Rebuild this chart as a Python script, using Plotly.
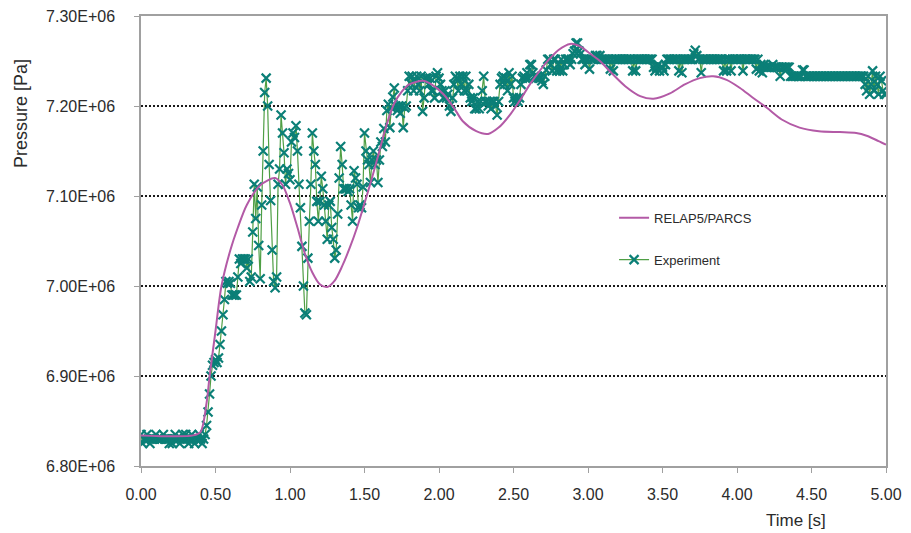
import plotly.graph_objects as go

# Measured pressure, sampled every 0.01 s from 0.00 s to 5.00 s (kPa)
exp_t0 = 0.0
exp_dt = 0.01
exp_kpa = [
    6835, 6825, 6830, 6830, 6835, 6830, 6825, 6830, 6830, 6830,  # 0.00
    6835, 6830, 6830, 6830, 6830, 6835, 6830, 6830, 6830, 6825,  # 0.10
    6830, 6825, 6830, 6835, 6830, 6830, 6825, 6830, 6835, 6830,  # 0.20
    6835, 6830, 6825, 6830, 6835, 6830, 6825, 6830, 6830, 6835,  # 0.30
    6830, 6825, 6830, 6835, 6845, 6860, 6880, 6900, 6912, 6915,  # 0.40
    6918, 6915, 6920, 6935, 6950, 6968, 6985, 7005, 7003, 7005,  # 0.50
    7003, 6990, 6990, 6990, 6990, 7010, 7030, 7025, 7030, 7030,  # 0.60
    7030, 7020, 7030, 7005, 7010, 7060, 7113, 7075, 7110, 7045,  # 0.70
    7008, 7090, 7150, 7215, 7231, 7200, 7135, 7095, 7040, 7005,  # 0.80
    6998, 7010, 7113, 7130, 7190, 7170, 7148, 7113, 7130, 7125,  # 0.90
    7118, 7160, 7170, 7165, 7178, 7150, 7113, 7087, 7044, 7000,  # 1.00
    6970, 6968, 7031, 7072, 7113, 7170, 7150, 7135, 7094, 7072,  # 1.10
    7094, 7122, 7108, 7090, 7072, 7052, 7090, 7094, 7065, 7052,  # 1.20
    7031, 7040, 7080, 7120, 7155, 7135, 7108, 7108, 7108, 7105,  # 1.30
    7108, 7090, 7072, 7128, 7120, 7113, 7087, 7090, 7087, 7110,  # 1.40
    7170, 7150, 7140, 7135, 7115, 7140, 7150, 7135, 7140, 7115,  # 1.50
    7140, 7160, 7155, 7175, 7160, 7195, 7202, 7176, 7198, 7210,  # 1.60
    7220, 7200, 7195, 7200, 7192, 7200, 7176, 7198, 7200, 7217,  # 1.70
    7233, 7225, 7233, 7217, 7228, 7233, 7224, 7217, 7233, 7194,  # 1.80
    7209, 7231, 7231, 7224, 7231, 7217, 7217, 7209, 7233, 7237,  # 1.90
    7231, 7224, 7217, 7209, 7217, 7209, 7213, 7200, 7194, 7209,  # 2.00
    7224, 7233, 7231, 7217, 7233, 7224, 7233, 7217, 7233, 7217,  # 2.10
    7224, 7209, 7205, 7209, 7197, 7197, 7205, 7197, 7205, 7217,  # 2.20
    7233, 7205, 7205, 7200, 7205, 7197, 7205, 7205, 7200, 7190,  # 2.30
    7205, 7224, 7231, 7233, 7224, 7231, 7217, 7237, 7224, 7233,  # 2.40
    7209, 7205, 7209, 7205, 7209, 7224, 7231, 7233, 7231, 7237,  # 2.50
    7231, 7246, 7246, 7237, 7233, 7231, 7233, 7231, 7231, 7228,  # 2.60
    7224, 7233, 7240, 7252, 7252, 7246, 7239, 7252, 7252, 7239,  # 2.70
    7246, 7239, 7252, 7239, 7246, 7252, 7252, 7252, 7246, 7252,  # 2.80
    7258, 7261, 7270, 7270, 7261, 7258, 7252, 7252, 7246, 7252,  # 2.90
    7252, 7241, 7252, 7252, 7252, 7256, 7256, 7252, 7256, 7252,  # 3.00
    7252, 7252, 7252, 7252, 7252, 7241, 7252, 7239, 7252, 7252,  # 3.10
    7252, 7252, 7252, 7252, 7252, 7252, 7252, 7252, 7252, 7252,  # 3.20
    7239, 7252, 7239, 7252, 7252, 7252, 7252, 7252, 7252, 7252,  # 3.30
    7252, 7252, 7252, 7252, 7243, 7239, 7243, 7246, 7239, 7243,  # 3.40
    7243, 7239, 7246, 7252, 7252, 7252, 7252, 7252, 7252, 7252,  # 3.50
    7252, 7239, 7252, 7237, 7252, 7252, 7252, 7252, 7252, 7252,  # 3.60
    7252, 7258, 7262, 7256, 7252, 7252, 7237, 7252, 7252, 7252,  # 3.70
    7252, 7252, 7252, 7252, 7252, 7252, 7252, 7252, 7252, 7252,  # 3.80
    7252, 7239, 7252, 7239, 7252, 7252, 7239, 7252, 7252, 7252,  # 3.90
    7252, 7252, 7252, 7252, 7239, 7252, 7252, 7252, 7252, 7252,  # 4.00
    7252, 7252, 7252, 7241, 7252, 7239, 7246, 7237, 7246, 7243,  # 4.10
    7243, 7243, 7243, 7243, 7246, 7243, 7243, 7243, 7243, 7233,  # 4.20
    7243, 7243, 7243, 7243, 7243, 7243, 7233, 7233, 7233, 7233,  # 4.30
    7233, 7233, 7233, 7233, 7240, 7240, 7233, 7233, 7233, 7233,  # 4.40
    7233, 7233, 7233, 7233, 7233, 7233, 7233, 7233, 7233, 7233,  # 4.50
    7233, 7233, 7233, 7233, 7233, 7233, 7233, 7233, 7233, 7233,  # 4.60
    7233, 7233, 7233, 7233, 7233, 7233, 7233, 7233, 7233, 7233,  # 4.70
    7233, 7233, 7233, 7233, 7233, 7233, 7224, 7217, 7233, 7213,  # 4.80
    7224, 7239, 7217, 7233, 7224, 7213, 7233, 7228, 7217, 7213,  # 4.90
    7213,                                                        # 5.00
]

# RELAP5/PARCS calculation (time in s, pressure in kPa)
sim_t = [0.00, 0.35, 0.40, 0.44, 0.46, 0.50, 0.54, 0.60, 0.65, 0.71,
         0.80, 0.90, 0.95, 1.00, 1.05, 1.10, 1.15, 1.20, 1.25, 1.30,
         1.35, 1.40, 1.45, 1.50, 1.55, 1.60, 1.65, 1.70, 1.75, 1.80,
         1.89, 1.95, 2.03, 2.10, 2.16, 2.25, 2.33, 2.40, 2.48, 2.55,
         2.61, 2.68, 2.74, 2.80, 2.88, 2.95, 3.00, 3.08, 3.15, 3.25,
         3.35, 3.44, 3.55, 3.65, 3.75, 3.84, 3.93, 4.02, 4.10, 4.20,
         4.30, 4.42, 4.55, 4.69, 4.80, 4.87, 4.95, 5.00]
sim_kpa = [6834, 6834, 6838, 6870, 6899, 6950, 7000, 7040, 7065, 7090,
           7112, 7120, 7112, 7092, 7065, 7036, 7015, 7002, 6999, 7006,
           7022, 7042, 7065, 7092, 7120, 7150, 7180, 7203, 7216, 7224,
           7228, 7224, 7213, 7198, 7183, 7172, 7169, 7176, 7191, 7208,
           7224, 7240, 7252, 7262, 7269, 7266, 7260, 7250, 7238, 7222,
           7211, 7208, 7214, 7224, 7231, 7233, 7229, 7220, 7210, 7198,
           7185, 7176, 7172, 7171, 7170, 7167, 7161, 7157]

x_ticks = [0.0, 0.5, 1.0, 1.5, 2.0, 2.5, 3.0, 3.5, 4.0, 4.5, 5.0]
y_ticks = [6.80e6, 6.90e6, 7.00e6, 7.10e6, 7.20e6, 7.30e6]

exp_t = [round(exp_t0 + i * exp_dt, 2) for i in range(len(exp_kpa))]
exp_pa = [v * 1000 for v in exp_kpa]
sim_pa = [v * 1000 for v in sim_kpa]

FONT = "Liberation Sans, Arial, Helvetica, sans-serif"
TEXT = "#2b2b2b"

# Plot area in pixels
W, H = 911, 533
ML, MR, MT, MB = 141, 25, 16, 67
PW, PH = W - ML - MR, H - MT - MB

fig = go.Figure()

fig.add_trace(go.Scatter(
    x=exp_t, y=exp_pa, name="Experiment", mode="lines+markers",
    line=dict(color="#4f9f45", width=1.2),
    marker=dict(symbol="x-thin", size=9, color="#0b7f77",
                line=dict(color="#0b7f77", width=2.2)),
    legendgroup="exp", legendrank=2,
))
fig.add_trace(go.Scatter(
    x=sim_t, y=sim_pa, name="RELAP5/PARCS", mode="lines",
    line=dict(color="#b35aa6", width=2, shape="spline", smoothing=0.8),
    legendgroup="sim", legendrank=1,
))

fig.update_layout(
    width=W, height=H,
    margin=dict(l=ML, r=MR, t=MT, b=MB, autoexpand=False),
    paper_bgcolor="white", plot_bgcolor="white",
    font=dict(family=FONT, size=16, color=TEXT),
    showlegend=True,
    legend=dict(
        x=0.635, y=0.585, xanchor="left", yanchor="top",
        bgcolor="rgba(0,0,0,0)", font=dict(size=13, color=TEXT),
        traceorder="grouped", tracegroupgap=22, itemwidth=30,
    ),
    xaxis=dict(
        range=[0, 5], tickvals=x_ticks,
        ticktext=[f"{v:.2f}" for v in x_ticks],
        showgrid=False, zeroline=False, automargin=False,
        showline=True, mirror=True, linecolor="#a0a0a0", linewidth=1.5,
        ticks="outside", ticklen=5, tickcolor="#a0a0a0",
        ticklabelstandoff=8,
    ),
    yaxis=dict(
        range=[6.80e6, 7.30e6], tickvals=y_ticks,
        ticktext=[f"{v:.2E}" for v in y_ticks],
        showgrid=True, gridcolor="#1a1a1a", gridwidth=1.5, griddash="2px,2px",
        zeroline=False, automargin=False,
        showline=True, mirror=True, linecolor="#a0a0a0", linewidth=1.5,
        ticks="outside", ticklen=5, tickcolor="#a0a0a0",
        ticklabelstandoff=16,
    ),
    annotations=[
        dict(text="Pressure [Pa]", x=(21 - ML) / PW, y=(H - MB - 114) / PH,
             xref="paper", yref="paper", xanchor="center", yanchor="middle",
             showarrow=False, textangle=-90,
             font=dict(size=18, color=TEXT)),
        dict(text="Time [s]", x=(796 - ML) / PW, y=(H - MB - 520) / PH,
             xref="paper", yref="paper", xanchor="center", yanchor="middle",
             showarrow=False, font=dict(size=17, color=TEXT)),
    ],
)

fig.write_html("out.html")
